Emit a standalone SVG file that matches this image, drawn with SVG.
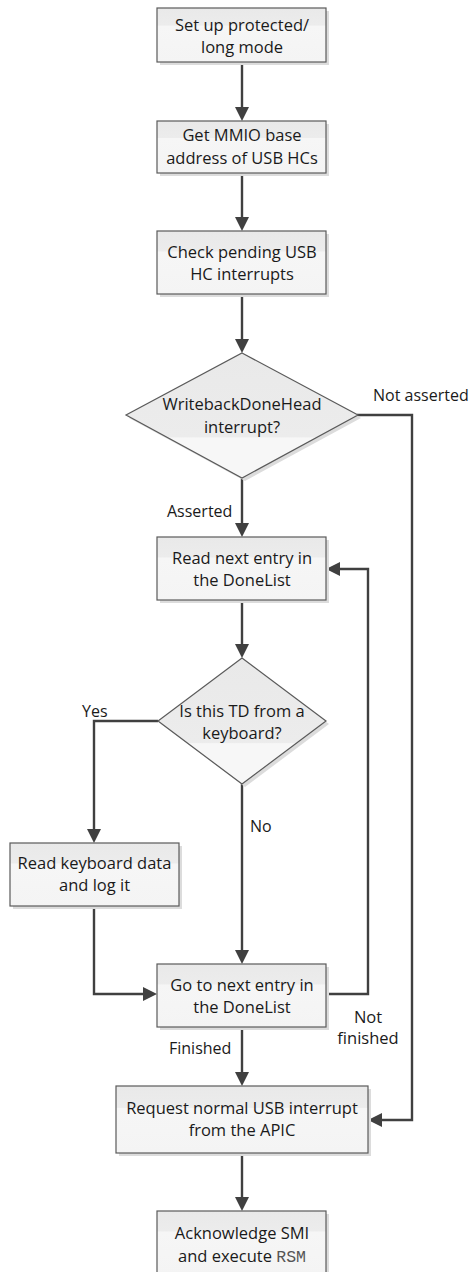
<svg xmlns="http://www.w3.org/2000/svg" width="470" height="1272" viewBox="0 0 470 1272">
<style>
.box{fill:url(#gb);stroke:#5a5a5a;stroke-width:1.2}
.dia{fill:url(#gd);stroke:#5a5a5a;stroke-width:1.2}
.sh{fill:#dcdcdc}
.t{font-family:"Open Sans","Liberation Sans",Arial,sans-serif;font-size:16.5px;fill:#1a1a1a;text-anchor:middle}
.l{font-family:"Open Sans","Liberation Sans",Arial,sans-serif;font-size:16px;fill:#1a1a1a}
.m{font-family:"Liberation Mono","Courier New",monospace;fill:#555}
.c{fill:none;stroke:#404040;stroke-width:2.4}
</style>
<defs>
<linearGradient id="gb" x1="0" y1="0" x2="0" y2="1">
<stop offset="0" stop-color="#e9e9e9"/>
<stop offset="0.32" stop-color="#ececec"/>
<stop offset="0.33" stop-color="#f6f6f6"/>
<stop offset="1" stop-color="#f4f4f4"/>
</linearGradient>
<linearGradient id="gd" x1="0" y1="0" x2="0" y2="1">
<stop offset="0" stop-color="#e9e9e9"/>
<stop offset="0.67" stop-color="#ececec"/>
<stop offset="0.68" stop-color="#f7f7f7"/>
<stop offset="1" stop-color="#f7f7f7"/>
</linearGradient>
<marker id="ar" viewBox="0 0 14 14" refX="10" refY="7" markerWidth="14" markerHeight="14" markerUnits="userSpaceOnUse" orient="auto">
<path d="M0,0 L14,7 L0,14 z" fill="#404040"/>
</marker>
</defs>

<g id="connectors">
<path class="c" d="M242,62 V117" marker-end="url(#ar)"/>
<path class="c" d="M242,173 V227" marker-end="url(#ar)"/>
<path class="c" d="M242,294 V349" marker-end="url(#ar)"/>
<path class="c" d="M242,478 V533" marker-end="url(#ar)"/>
<path class="c" d="M357,415 H412 V1120 H372" marker-end="url(#ar)"/>
<path class="c" d="M242,600 V654" marker-end="url(#ar)"/>
<path class="c" d="M158,721 H94 V839" marker-end="url(#ar)"/>
<path class="c" d="M242,784 V960" marker-end="url(#ar)"/>
<path class="c" d="M94,906 V994 H153" marker-end="url(#ar)"/>
<path class="c" d="M326,994 H368 V569 H330" marker-end="url(#ar)"/>
<path class="c" d="M242,1027 V1082" marker-end="url(#ar)"/>
<path class="c" d="M242,1153 V1207" marker-end="url(#ar)"/>
<text class="l" x="373" y="401">Not asserted</text>
<text class="l" x="167" y="517">Asserted</text>
<text class="l" x="82" y="717">Yes</text>
<text class="l" x="250" y="832">No</text>
<text class="l" x="169" y="1054">Finished</text>
<text class="t" x="368" y="1023">Not</text>
<text class="t" x="368" y="1044">finished</text>
</g>

<g id="n1">
<rect class="sh" x="160" y="11" width="169" height="54"/>
<rect class="box" x="157" y="8" width="169" height="54"/>
<text class="t" x="242" y="31">Set up protected/</text>
<text class="t" x="242" y="53">long mode</text>
</g>
<g id="n2">
<rect class="sh" x="160" y="124" width="169" height="52"/>
<rect class="box" x="157" y="121" width="169" height="52"/>
<text class="t" x="242" y="141">Get MMIO base</text>
<text class="t" x="242" y="164">address of USB HCs</text>
</g>
<g id="n3">
<rect class="sh" x="160" y="234" width="169" height="63"/>
<rect class="box" x="157" y="231" width="169" height="63"/>
<text class="t" x="242" y="258">Check pending USB</text>
<text class="t" x="242" y="280">HC interrupts</text>
</g>
<g id="d1">
<polygon class="sh" points="245,356 361,418 245,481 129,418"/>
<polygon class="dia" points="242,353 358,415 242,478 126,415"/>
<text class="t" x="242" y="410">WritebackDoneHead</text>
<text class="t" x="242" y="433">interrupt?</text>
</g>
<g id="n4">
<rect class="sh" x="160" y="540" width="169" height="63"/>
<rect class="box" x="157" y="537" width="169" height="63"/>
<text class="t" x="242" y="564">Read next entry in</text>
<text class="t" x="242" y="586">the DoneList</text>
</g>
<g id="d2">
<polygon class="sh" points="245,661 329,724 245,787 161,724"/>
<polygon class="dia" points="242,658 326,721 242,784 158,721"/>
<text class="t" x="242" y="717">Is this TD from a</text>
<text class="t" x="242" y="739">keyboard?</text>
</g>
<g id="n5">
<rect class="sh" x="13" y="846" width="169" height="63"/>
<rect class="box" x="10" y="843" width="169" height="63"/>
<text class="t" x="94.5" y="869">Read keyboard data</text>
<text class="t" x="94.5" y="891">and log it</text>
</g>
<g id="n6">
<rect class="sh" x="160" y="967" width="169" height="63"/>
<rect class="box" x="157" y="964" width="169" height="63"/>
<text class="t" x="242" y="991">Go to next entry in</text>
<text class="t" x="242" y="1013">the DoneList</text>
</g>
<g id="n7">
<rect class="sh" x="119" y="1089" width="252" height="67"/>
<rect class="box" x="116" y="1086" width="252" height="67"/>
<text class="t" x="242" y="1114">Request normal USB interrupt</text>
<text class="t" x="242" y="1136">from the APIC</text>
</g>
<g id="n8">
<rect class="sh" x="160" y="1214" width="169" height="63"/>
<rect class="box" x="157" y="1211" width="169" height="63"/>
<text class="t" x="242" y="1239">Acknowledge SMI</text>
<text class="t" x="242" y="1262">and execute <tspan class="m">RSM</tspan></text>
</g>
</svg>
